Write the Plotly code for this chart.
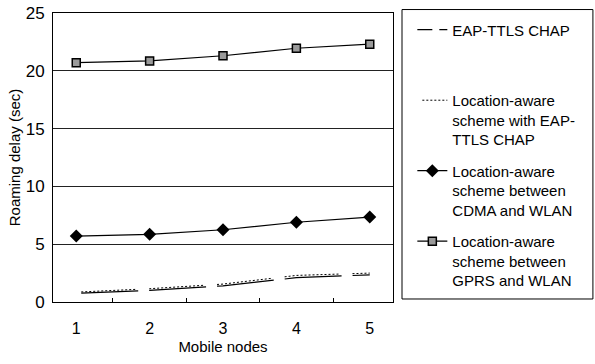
import plotly.graph_objects as go

categories = ["1", "2", "3", "4", "5"]
eap_ttls = [0.75, 1.0, 1.4, 2.1, 2.35]
loc_eap = [0.85, 1.15, 1.55, 2.3, 2.5]
loc_cdma = [5.7, 5.85, 6.25, 6.9, 7.35]
loc_gprs = [20.7, 20.85, 21.3, 21.95, 22.3]

names = [
    "EAP-TTLS CHAP<br> <br> ",
    "Location-aware<br>scheme with EAP-<br>TTLS CHAP",
    "Location-aware<br>scheme between<br>CDMA and WLAN",
    "Location-aware<br>scheme between<br>GPRS and WLAN",
]

FONT = "Liberation Sans, Arial, sans-serif"

dot_pattern = "0px,5px," + ",".join(["2px,2px"] * 13) + ",2px,9px"

fig = go.Figure()
# legend-only entry for the dashed series
fig.add_trace(go.Scatter(x=[None], y=[None], mode="lines", name=names[0],
                         line=dict(color="black", width=1.2, dash="15px,7px"),
                         legendgroup="a"))
fig.add_trace(go.Scatter(x=categories, y=eap_ttls, mode="lines", showlegend=False,
                         line=dict(color="black", width=1.2, dash="0px,5px,57px,6px")))
fig.add_trace(go.Scatter(x=categories, y=loc_eap, mode="lines", name=names[1],
                         line=dict(color="black", width=1, dash=dot_pattern),
                         legendgroup="b"))
fig.add_trace(go.Scatter(x=categories, y=loc_cdma, mode="lines+markers", name=names[2],
                         line=dict(color="black", width=1.2),
                         marker=dict(symbol="diamond", size=10, color="black"),
                         legendgroup="c"))
fig.add_trace(go.Scatter(x=categories, y=loc_gprs, mode="lines+markers", name=names[3],
                         line=dict(color="black", width=1.2),
                         marker=dict(symbol="square", size=8, color="#9a9a9a",
                                     line=dict(color="black", width=1.5)),
                         legendgroup="d"))

fig.update_layout(
    width=595, height=364,
    margin=dict(l=53, r=202, t=13, b=62),
    paper_bgcolor="white", plot_bgcolor="white",
    font=dict(family=FONT, size=15, color="black"),
    showlegend=True,
    legend=dict(xref="container", yref="container",
                x=0.693, xanchor="left", y=0.963, yanchor="top",
                valign="top", tracegroupgap=9, borderwidth=0, maxheight=360,
                font=dict(family=FONT, size=15, color="black"),
                bgcolor="rgba(0,0,0,0)"),
    shapes=[dict(type="rect", xref="paper", yref="paper",
                 x0=1.0265, x1=1.588, y0=0.0104, y1=1.012,
                 line=dict(color="black", width=1))],
)
fig.update_xaxes(
    type="category", showline=True, linecolor="black", linewidth=1, mirror=True,
    ticks="inside", tickson="boundaries", ticklen=4, tickcolor="black",
    tickfont=dict(size=16), ticklabelstandoff=12, automargin=False,
    title=dict(text="Mobile nodes", font=dict(size=15), standoff=5),
    showgrid=False,
)
fig.update_yaxes(
    range=[0, 25], dtick=5, showline=True, linecolor="black", linewidth=1, mirror=True,
    showgrid=True, gridcolor="#222", gridwidth=1, zeroline=False,
    tickfont=dict(size=17), ticks="", ticklabelstandoff=4, automargin=False,
    title=dict(text="Roaming delay (sec)", font=dict(size=15), standoff=1),
)

fig.write_html("out.html")
